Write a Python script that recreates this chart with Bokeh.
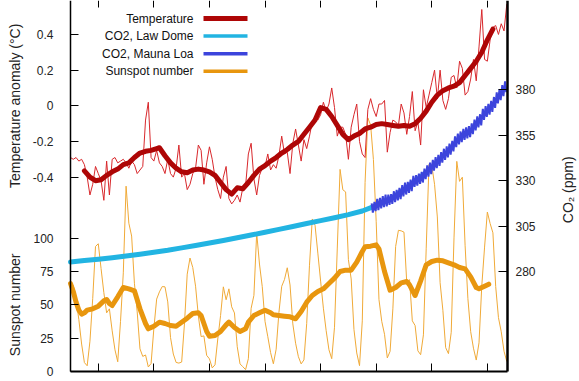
import math
from bokeh.plotting import figure
from bokeh.models import Range1d, LinearAxis, FixedTicker, Label, BoxAnnotation
from bokeh.embed import file_html
from bokeh.resources import INLINE

# ---------------- data ----------------
years = list(range(1850, 2008))

temp_annual = [
    -0.29, -0.30, -0.29, -0.31, -0.30, -0.33, -0.40, -0.50, -0.44, -0.34,
    -0.38, -0.42, -0.53, -0.31, -0.50, -0.30, -0.29, -0.32, -0.31, -0.30,
    -0.32, -0.35, -0.31, -0.33, -0.38, -0.36, -0.34, -0.08, 0.02, -0.29,
    -0.31, -0.25, -0.32, -0.34, -0.38, -0.30, -0.38, -0.40, -0.35, -0.22,
    -0.40, -0.38, -0.47, -0.44, -0.38, -0.35, -0.22, -0.25, -0.44, -0.32,
    -0.23, -0.30, -0.40, -0.47, -0.52, -0.40, -0.34, -0.52, -0.55, -0.53,
    -0.50, -0.54, -0.46, -0.45, -0.27, -0.21, -0.41, -0.50, -0.39, -0.35,
    -0.34, -0.27, -0.36, -0.33, -0.35, -0.28, -0.17, -0.27, -0.26, -0.38,
    -0.21, -0.13, -0.22, -0.31, -0.19, -0.24, -0.17, -0.09, -0.06, -0.08,
    -0.05, 0.02, -0.03, 0.01, 0.10, -0.01, -0.17, -0.12, -0.12, -0.16,
    -0.30, -0.12, -0.05, 0.01, -0.20, -0.27, -0.29, -0.02, 0.04, -0.02,
    -0.06, 0.01, 0.01, 0.03, -0.26, -0.15, -0.08, -0.09, -0.11, 0.01,
    -0.04, -0.16, -0.06, 0.08, -0.14, -0.09, -0.22, 0.09, -0.01, 0.06,
    0.13, 0.20, 0.04, 0.20, 0.03, -0.02, 0.04, 0.16, 0.17, 0.10,
    0.25, 0.21, 0.06, 0.08, 0.15, 0.26, 0.14, 0.33, 0.54, 0.26,
    0.25, 0.37, 0.44, 0.45, 0.40, 0.46, 0.42, 0.57,
]

temp_smooth_years = [
    1855, 1857, 1859, 1861, 1863, 1865, 1867, 1869, 1871, 1873, 1875, 1877,
    1879, 1881, 1882, 1884, 1886, 1888, 1890, 1892, 1894, 1896, 1898, 1900,
    1902, 1904, 1906, 1908, 1910, 1912, 1914, 1916, 1918, 1920, 1922, 1924,
    1926, 1928, 1930, 1932, 1934, 1936, 1938, 1940, 1942, 1944, 1946, 1948,
    1950, 1952, 1954, 1956, 1958, 1960, 1962, 1964, 1966, 1968, 1970, 1972,
    1974, 1976, 1978, 1980, 1982, 1984, 1986, 1988, 1990, 1992, 1994, 1996,
    1998, 2000, 2002,
]
temp_smooth = [
    -0.365, -0.40, -0.42, -0.415, -0.39, -0.37, -0.355, -0.33, -0.32, -0.29, -0.265, -0.255,
    -0.25, -0.24, -0.235, -0.28, -0.32, -0.35, -0.37, -0.375, -0.36, -0.355, -0.36, -0.37,
    -0.39, -0.43, -0.47, -0.495, -0.46, -0.465, -0.43, -0.39, -0.355, -0.335, -0.31, -0.29,
    -0.265, -0.245, -0.22, -0.20, -0.16, -0.12, -0.08, -0.01, -0.02, -0.06, -0.11, -0.16,
    -0.19, -0.17, -0.155, -0.13, -0.12, -0.105, -0.10, -0.105, -0.11, -0.115, -0.11, -0.115,
    -0.10, -0.07, -0.03, 0.02, 0.06, 0.085, 0.10, 0.11, 0.13, 0.17, 0.21, 0.25,
    0.30, 0.37, 0.43,
]

sunspot_annual = [
    66.5, 64.5, 54.1, 39.0, 20.6, 6.7, 4.3, 22.7, 54.8, 93.8,
    95.8, 77.2, 59.1, 44.0, 47.0, 30.5, 16.3, 7.3, 37.6, 74.0,
    139.0, 111.2, 101.6, 66.2, 44.7, 17.0, 11.3, 12.4, 3.4, 6.0,
    32.3, 54.3, 59.7, 63.7, 63.5, 52.2, 25.4, 13.1, 6.8, 6.3,
    7.1, 35.6, 73.0, 85.1, 78.0, 64.0, 41.8, 26.2, 26.7, 12.1,
    9.5, 2.7, 5.0, 24.4, 42.0, 63.5, 53.8, 62.0, 48.5, 43.9,
    18.6, 5.7, 3.6, 1.4, 9.6, 47.4, 57.1, 103.9, 80.6, 63.6,
    37.6, 26.1, 14.2, 5.8, 16.7, 44.3, 63.9, 69.0, 77.8, 64.9,
    35.7, 21.2, 11.1, 5.7, 8.7, 36.1, 79.7, 114.4, 109.6, 88.8,
    67.8, 47.5, 30.6, 16.3, 9.6, 33.2, 92.6, 151.6, 136.3, 134.7,
    83.9, 69.4, 31.5, 13.9, 4.4, 38.0, 141.7, 190.2, 184.8, 159.0,
    112.3, 53.9, 37.6, 27.9, 10.2, 15.1, 47.0, 93.8, 105.9, 105.5,
    104.5, 66.6, 68.9, 38.0, 34.5, 15.5, 12.6, 27.5, 92.5, 155.4,
    154.6, 140.4, 115.9, 66.6, 45.9, 17.9, 13.4, 29.4, 100.2, 157.6,
    142.6, 145.7, 94.3, 54.6, 29.9, 17.5, 8.6, 21.5, 64.3, 93.3,
    119.6, 111.0, 104.0, 63.7, 40.4, 29.8, 15.2, 7.5,
]

sun_smooth_years = [
    1850, 1851, 1852, 1853, 1854, 1855, 1856, 1858, 1860, 1862, 1863, 1864,
    1865, 1867, 1869, 1871, 1873, 1875, 1877, 1878, 1880, 1882, 1884, 1886,
    1888, 1890, 1892, 1894, 1896, 1897, 1899, 1900, 1902, 1904, 1906, 1907,
    1909, 1911, 1913, 1914, 1916, 1918, 1920, 1922, 1923, 1925, 1927, 1929,
    1931, 1933, 1935, 1937, 1939, 1941, 1943, 1945, 1947, 1949, 1951, 1953,
    1955, 1956, 1958, 1960, 1961, 1963, 1965, 1967, 1969, 1971, 1972, 1974,
    1976, 1978, 1980, 1982, 1984, 1986, 1988, 1990, 1992, 1994, 1996, 1997,
    1999, 2000.5,
]
sun_smooth = [
    66, 60, 52, 46, 43, 44, 46, 47, 49, 53, 54, 51,
    49.5, 56, 63, 62, 60.5, 47, 36, 32, 34, 37, 36, 34.5,
    34, 37, 40, 43.5, 44, 42, 30, 26.5, 27, 30, 35, 37,
    33, 30, 32, 37, 42, 44, 46, 44, 42.5, 42, 41.5, 41,
    39.5, 45, 52, 57, 60, 62, 66, 70, 75, 76, 76, 82,
    90, 93.5, 94, 95, 92, 75, 61, 63, 66.5, 67.5, 65, 57,
    68, 80, 82.5, 83.5, 83, 81.5, 80, 78, 77, 71, 63, 62,
    64, 65.5,
]

law_years = [1850, 1855, 1860, 1865, 1870, 1875, 1880, 1885, 1890, 1895, 1900,
             1905, 1910, 1915, 1920, 1925, 1930, 1935, 1940, 1945, 1950, 1955,
             1960, 1965, 1970, 1975, 1978]
law_co2 = [285.2, 286.0, 286.8, 287.6, 288.5, 289.5, 290.6, 291.7, 293.0, 294.3, 295.7,
           297.1, 298.6, 300.1, 301.6, 303.2, 304.8, 306.4, 308.0, 309.6, 311.3, 313.3,
           316.3, 319.8, 325.0, 330.8, 334.5]

ml_years = list(range(1958, 2008))
ml_may = [317.5, 318.3, 320.0, 320.6, 321.5, 322.3, 322.3, 322.6, 324.2, 325.0,
          326.0, 327.6, 328.9, 329.4, 330.6, 332.7, 333.1, 333.9, 334.9, 336.7,
          338.4, 339.9, 341.5, 343.0, 344.2, 345.8, 347.6, 348.9, 350.4, 352.0,
          354.4, 355.9, 357.1, 358.5, 359.4, 360.0, 361.6, 363.6, 365.4, 366.6,
          369.5, 371.1, 372.3, 373.9, 376.1, 378.6, 380.4, 382.6, 384.7, 386.5]
ml_oct = [312.4, 313.3, 313.8, 314.8, 315.4, 315.8, 316.7, 317.3, 318.2, 319.2,
          319.9, 321.3, 322.4, 323.3, 324.2, 326.6, 327.3, 328.3, 329.0, 330.8,
          332.2, 333.6, 335.6, 336.9, 338.2, 340.0, 341.4, 342.9, 344.3, 346.2,
          348.5, 350.0, 351.3, 352.5, 353.3, 354.0, 355.7, 357.7, 359.4, 360.5,
          363.5, 365.2, 366.4, 367.9, 370.1, 372.6, 374.3, 376.6, 378.7, 380.6]

temp_ticks = [-0.4, -0.2, 0.0, 0.2, 0.4]
temp_tick_labels = ["-0.4", "-0.2", "0", "0.2", "0.4"]
sun_ticks = [0, 25, 50, 75, 100]
co2_ticks = [280, 305, 330, 355, 380]
year_ticks = [1860, 1880, 1900, 1920, 1940, 1960, 1980, 2000]

# ---------------- layout / styling ----------------
FONT = "Liberation Sans"
W, H = 579, 381                     # canvas = plotting frame
AX_L, AX_R, AX_B = 70, 507, 371     # pixel positions of the drawn axes
YEAR0, YEAR1 = 1850, 2007.25        # years at the left / right axis
PX_PER_YEAR = (AX_R - AX_L) / (YEAR1 - YEAR0)
X_RANGE = (YEAR0 - AX_L / PX_PER_YEAR, YEAR1 + (W - AX_R) / PX_PER_YEAR)

SUN_PER_PX = 0.75                   # 25 per 33.3 px, 0 at the bottom axis
SUN_RANGE = (-(H - AX_B) * SUN_PER_PX, AX_B * SUN_PER_PX)
TEMP_ZERO_PX, TEMP_PX_PER_UNIT = 105.3, 178.35
TEMP_RANGE = (-(H - TEMP_ZERO_PX) / TEMP_PX_PER_UNIT, TEMP_ZERO_PX / TEMP_PX_PER_UNIT)
CO2_280_PX, CO2_PER_PX = 271.0, 0.55066
CO2_RANGE = (280 - (H - CO2_280_PX) * CO2_PER_PX, 280 + CO2_280_PX * CO2_PER_PX)

C_TEMP_THIN = "#d8282c"
C_TEMP = "#ae0606"
C_LAW = "#22b4e2"
C_ML = "#3c44dc"
C_SUN_THIN = "#f0aa38"
C_SUN = "#e8960e"
C_TEXT = "#222222"

p = figure(width=W, height=H, x_range=Range1d(*X_RANGE), y_range=Range1d(*SUN_RANGE),
           output_backend="svg", toolbar_location=None, min_border=0)
p.extra_y_ranges = {"temp": Range1d(*TEMP_RANGE), "co2": Range1d(*CO2_RANGE)}
p.xgrid.grid_line_color = None
p.ygrid.grid_line_color = None
p.outline_line_color = None
p.background_fill_color = "white"
p.border_fill_color = "white"

# sunspots
p.line(years, sunspot_annual, line_color=C_SUN_THIN, line_width=1)
p.line(sun_smooth_years, sun_smooth, line_color=C_SUN, line_width=5,
       line_join="round", line_cap="round")

# temperature
p.line(years, temp_annual, y_range_name="temp", line_color=C_TEMP_THIN, line_width=1)
p.line(temp_smooth_years, temp_smooth, y_range_name="temp", line_color=C_TEMP,
       line_width=5, line_join="round", line_cap="round")

# CO2
p.line(law_years, law_co2, y_range_name="co2", line_color=C_LAW, line_width=5,
       line_join="round", line_cap="round")
ml_t, ml_v = [], []
for yr, hi, lo in zip(ml_years, ml_may, ml_oct):
    for t, v in ((yr + 0.375, hi), (yr + 0.79, lo)):
        if t <= YEAR1:          # the plot ends at the right axis
            ml_t.append(t)
            ml_v.append(v)
p.line(ml_t, ml_v, y_range_name="co2", line_color=C_ML, line_width=2)

# ---------------- axes (drawn at fixed locations inside the canvas) ----------------
s0, s1 = SUN_RANGE
t0, t1 = TEMP_RANGE
yl = p.left[0]
yl.fixed_location = YEAR0
yl.bounds = (0, s1)
mapped = [s0 + (t - t0) / (t1 - t0) * (s1 - s0) for t in temp_ticks]
yl.ticker = FixedTicker(ticks=[float(s) for s in sun_ticks] + mapped)
overrides = {float(s): str(s) for s in sun_ticks}
for m, lab in zip(mapped, temp_tick_labels):
    overrides[m] = lab
yl.major_label_overrides = overrides
yl.axis_line_width = 1.5
yl.major_tick_in = 8
yl.major_tick_out = 0
yl.minor_tick_line_color = None
yl.major_label_standoff = 17
yl.major_label_text_font = FONT
yl.major_label_text_font_size = "12px"
yl.major_label_text_color = C_TEXT

yr_ax = LinearAxis(y_range_name="co2", ticker=FixedTicker(ticks=co2_ticks),
                   fixed_location=YEAR1)
yr_ax.bounds = (280 - (AX_B - CO2_280_PX) * CO2_PER_PX, CO2_RANGE[1])
yr_ax.axis_line_width = 2.5
yr_ax.major_tick_in = 9
yr_ax.major_tick_out = 0
yr_ax.minor_tick_line_color = None
yr_ax.major_label_standoff = 8
yr_ax.major_label_text_font = FONT
yr_ax.major_label_text_font_size = "12px"
yr_ax.major_label_text_color = C_TEXT
p.add_layout(yr_ax, "right")

xb = p.below[0]
xb.fixed_location = 0
xb.bounds = (YEAR0, YEAR1)
xb.ticker = FixedTicker(ticks=year_ticks)
xb.axis_line_width = 2
xb.major_tick_in = 8
xb.major_tick_out = 0
xb.minor_tick_line_color = None
xb.major_label_text_color = None   # year labels lie below the visible area

xt = LinearAxis(ticker=FixedTicker(ticks=year_ticks), fixed_location=SUN_RANGE[1])
xt.axis_line_color = None
xt.major_tick_in = 7
xt.major_tick_out = 0
xt.minor_tick_line_color = None
xt.major_label_text_color = None
p.add_layout(xt, "above")

# axis titles
title_kw = dict(angle=math.pi / 2, text_align="center", text_baseline="middle",
                text_font=FONT, text_font_size="14px", text_color=C_TEXT)
p.add_layout(Label(x=14, x_units="screen", y=0.0, y_range_name="temp",
                   text="Temperature anomaly (°C)", **title_kw))
p.add_layout(Label(x=14, x_units="screen", y=50,
                   text="Sunspot number", **title_kw))
p.add_layout(Label(x=567, x_units="screen", y=325, y_range_name="co2",
                   text="CO₂ (ppm)", **title_kw))

# legend (text on the left, line sample on the right)
legend_items = [("Temperature", C_TEMP, 5), ("CO2, Law Dome", C_LAW, 3.5),
                ("CO2, Mauna Loa", C_ML, 3.5), ("Sunspot number", C_SUN, 3.5)]
for i, (name, col, th) in enumerate(legend_items):
    yy = H - 18 - i * 17.6
    p.add_layout(Label(x=193, y=yy, x_units="screen", y_units="screen", text=name,
                       text_align="right", text_baseline="middle",
                       text_font=FONT, text_font_size="12px", text_color="#111111"))
    p.add_layout(BoxAnnotation(left=203, right=247, bottom=yy - th / 2, top=yy + th / 2,
                               left_units="screen", right_units="screen",
                               bottom_units="screen", top_units="screen",
                               fill_color=col, fill_alpha=1.0, line_color=None))

open("out.html", "w").write(file_html(p, INLINE))
